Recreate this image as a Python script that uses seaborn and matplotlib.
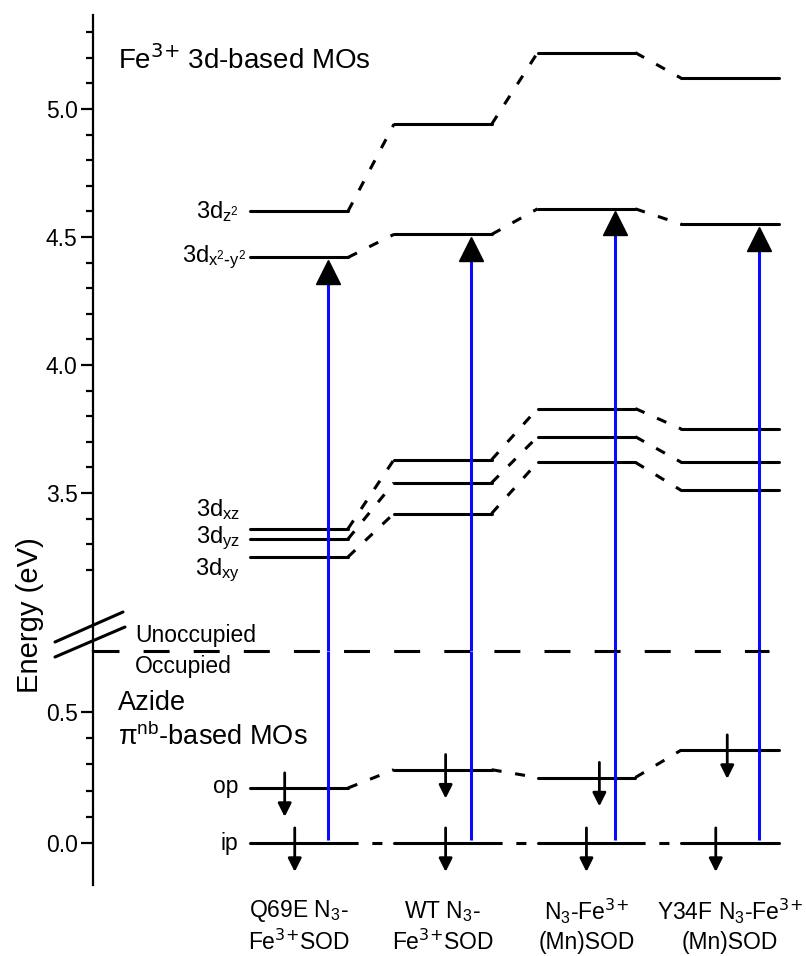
import numpy as np
import pandas as pd
import matplotlib.pyplot as plt
import seaborn as sns
from matplotlib.lines import Line2D
from matplotlib.ticker import FixedLocator, FormatStrFormatter

# complexes (one column each)
cat_line1 = [r'Q69E N$_3$-', r'WT N$_3$-', r'N$_3$-Fe$^{\text{3+}}$', r'Y34F N$_3$-Fe$^{\text{3+}}$']
cat_line2 = [r'Fe$^{\text{3+}}$SOD', r'Fe$^{\text{3+}}$SOD', '(Mn)SOD', '(Mn)SOD']

# Fe 3d-based MO energies (eV)
e_z2 = [4.60, 4.94, 5.22, 5.12]
e_x2y2 = [4.42, 4.51, 4.61, 4.55]
e_xz = [3.36, 3.63, 3.83, 3.75]
e_yz = [3.32, 3.54, 3.72, 3.62]
e_xy = [3.25, 3.42, 3.62, 3.51]
# azide pi-nb MOs (eV)
e_op = [0.21, 0.28, 0.25, 0.355]
e_ip = [0.0, 0.0, 0.0, 0.0]

upper_levels = {'z2': e_z2, 'x2y2': e_x2y2, 'xz': e_xz, 'yz': e_yz, 'xy': e_xy}
lower_levels = {'op': e_op, 'ip': e_ip}

HW = 0.34  # half width of a level bar


def level_frames(levels):
    bars, links = [], []
    for name, vals in levels.items():
        for i, e in enumerate(vals):
            seg = f'{name}{i}'
            bars += [dict(x=i - HW, E=e, seg=seg), dict(x=i + HW, E=e, seg=seg)]
            if i < len(vals) - 1:
                seg = f'{name}{i}-{i+1}'
                links += [dict(x=i + HW, E=e, seg=seg), dict(x=i + 1 - HW, E=vals[i + 1], seg=seg)]
    return pd.DataFrame(bars), pd.DataFrame(links)


sns.set_style('ticks')
plt.rcParams['font.family'] = ['Liberation Sans', 'DejaVu Sans']
plt.rcParams['mathtext.default'] = 'regular'
plt.rcParams.update({'text.color': 'black', 'axes.edgecolor': 'black',
                     'axes.labelcolor': 'black', 'ytick.color': 'black',
                     'xtick.color': 'black'})

W, H = 806, 956
fig = plt.figure(figsize=(W / 100, H / 100), dpi=100)
x0 = 93 / W
ax_hi = fig.add_axes([x0, 1 - 651 / H, 1 - x0, (651 - 15) / H])
ax_lo = fig.add_axes([x0, 1 - 885 / H, 1 - x0, (885 - 651) / H])
for ax in (ax_hi, ax_lo):
    ax.patch.set_alpha(0)

xlim = (-1.434, 3.528)
ax_hi.set_xlim(*xlim)
ax_lo.set_xlim(*xlim)
ax_hi.set_ylim(2.883, 5.367)
ax_lo.set_ylim(-0.16, 0.733)

link_style = (0, (3.3, 4.5))
for ax, levels in [(ax_hi, upper_levels), (ax_lo, lower_levels)]:
    bars, links = level_frames(levels)
    sns.lineplot(data=bars, x='x', y='E', units='seg', estimator=None,
                 color='black', lw=2.2, legend=False, ax=ax)
    sns.lineplot(data=links, x='x', y='E', units='seg', estimator=None,
                 color='black', lw=2.2, linestyle=link_style, legend=False, ax=ax)

# transitions ip -> dx2-y2
cols = np.arange(len(e_x2y2))
bx = cols + 0.2
ax_lo.vlines(bx, [e + 0.012 for e in e_ip], ax_lo.get_ylim()[1], color='#0a0aff', lw=2.2)
ax_hi.vlines(bx, ax_hi.get_ylim()[0], [e - 0.08 for e in e_x2y2], color='#0a0aff', lw=2.2)
ax_hi.plot(bx, [e - 0.056 for e in e_x2y2], ls='none', marker='^', ms=17, color='black')

# electron spin arrows
op_dx = [-0.10, 0.02, 0.09, -0.02]
ip_dx = [-0.03, 0.02, 0.0, -0.10]
for vals, dxs in [(e_op, op_dx), (e_ip, ip_dx)]:
    for i, (e, dx) in enumerate(zip(vals, dxs)):
        ax_lo.annotate('', xy=(i + dx, e - 0.11), xytext=(i + dx, e + 0.058),
                       arrowprops=dict(arrowstyle='-|>', color='black', lw=2,
                                       mutation_scale=20, shrinkA=0, shrinkB=0))

# occupied / unoccupied divider
ax_hi.plot([xlim[0], 3.27], [ax_hi.get_ylim()[0]] * 2, color='black', lw=2.2,
           ls=(0, (8.5, 7.9)), clip_on=False)

# axes styling
for ax in (ax_hi, ax_lo):
    for s in ('top', 'right', 'bottom'):
        ax.spines[s].set_visible(False)
    ax.spines['left'].set_linewidth(1.6)
    ax.set_xticks([])
    ax.set_xlabel('')
    ax.set_ylabel('')
    ax.tick_params(axis='y', which='major', length=9, width=1.6, labelsize=16.5, pad=2)
    ax.tick_params(axis='y', which='minor', length=5, width=1.6)
    ax.yaxis.set_major_formatter(FormatStrFormatter('%.1f'))
ax_hi.set_yticks([3.5, 4.0, 4.5, 5.0])
ax_hi.yaxis.set_minor_locator(FixedLocator(np.arange(3.2, 5.35, 0.1)))
ax_lo.set_yticks([0.0, 0.5])
ax_lo.yaxis.set_minor_locator(FixedLocator([0.1, 0.2, 0.3, 0.4]))

# axis break marks
for y1, y2, x2 in [(642, 612, 123), (657, 627, 125)]:
    fig.add_artist(Line2D([55 / W, x2 / W], [1 - y1 / H, 1 - y2 / H], color='black', lw=2.2))

# text
ax_hi.text(-1.26, 5.19, r'Fe$^{\text{3+}}$ 3d-based MOs', fontsize=20, va='center')
ax_hi.text(-0.42, 4.60, '3d$_{z^2}$', fontsize=17, ha='right', va='center')
ax_hi.text(-0.37, 4.42, r'3d$_{x^2\text{-}y^2}$', fontsize=17, ha='right', va='center')
ax_hi.text(-0.41, 3.434, '3d$_{xz}$', fontsize=17, ha='right', va='center')
ax_hi.text(-0.41, 3.324, '3d$_{yz}$', fontsize=17, ha='right', va='center')
ax_hi.text(-0.41, 3.199, '3d$_{xy}$', fontsize=17, ha='right', va='center')
ax_hi.text(-1.14, 2.945, 'Unoccupied', fontsize=16.5, va='center')
ax_lo.text(-1.14, 0.672, 'Occupied', fontsize=16.5, va='center')
ax_lo.text(-1.26, 0.534, 'Azide', fontsize=19.5, va='center')
ax_lo.text(-1.26, 0.405, 'π$^{nb}$-based MOs', fontsize=19.5, va='center')
ax_lo.text(-0.42, 0.214, 'op', fontsize=16.5, ha='right', va='center')
ax_lo.text(-0.42, 0.0, 'ip', fontsize=16.5, ha='right', va='center')
for i, (l1, l2) in enumerate(zip(cat_line1, cat_line2)):
    ax_lo.text(i, -0.26, l1, fontsize=16.5, ha='center', va='center')
    ax_lo.text(i, -0.378, l2, fontsize=16.5, ha='center', va='center')

fig.text(30 / W, 1 - 615 / H, 'Energy (eV)', rotation=90, fontsize=21, ha='center', va='center')

fig.savefig('out.png', dpi=100)
plt.close(fig)
